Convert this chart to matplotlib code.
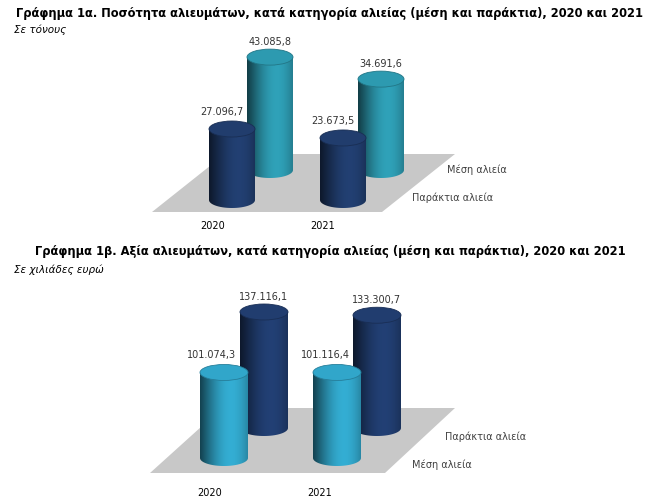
import numpy as np
import matplotlib
matplotlib.use("Agg")
import matplotlib.pyplot as plt
from matplotlib.patches import Ellipse, Polygon, PathPatch
from matplotlib.path import Path

years = ["2020", "2021"]
series1 = ["Παράκτια αλιεία", "Μέση αλιεία"]
coastal_t = [27096.7, 23673.5]
medium_t = [43085.8, 34691.6]
series2 = ["Μέση αλιεία", "Παράκτια αλιεία"]
medium_v = [101074.3, 101116.4]
coastal_v = [137116.1, 133300.7]

def fmt(v):
    s = f"{v:,.1f}"
    return s.replace(",", "X").replace(".", ",").replace("X", ".")

fig = plt.figure(figsize=(6.52, 5.03), dpi=100)
ax = fig.add_axes([0, 0, 1, 1])
ax.set_xlim(0, 652); ax.set_ylim(503, 0); ax.axis("off")

def shade(c, f):
    c = np.array(matplotlib.colors.to_rgb(c))
    return np.clip(c * f, 0, 1)

def cylinder(xc, ybot, h, color, w=46, eh=16):
    ytop = ybot - h
    x0, x1 = xc - w / 2, xc + w / 2
    # body path: rectangle + lower half-ellipse
    t = np.linspace(0, np.pi, 40)
    bx = xc + (w / 2) * np.cos(t)
    by = ybot + (eh / 2) * np.sin(t)
    verts = [(x1, ytop)] + list(zip(bx, by)) + [(x0, ytop), (x1, ytop)]
    path = Path(verts)
    patch = PathPatch(path, fc="none", ec="none")
    ax.add_patch(patch)
    xs = np.linspace(-1, 1, 100)
    prof = 0.55 + 0.55 * np.cos((xs - 0.3) * 1.4)
    img = np.array([[shade(color, p) for p in prof]])
    im = ax.imshow(img, extent=(x0, x1, ybot + eh, ytop), aspect="auto", zorder=3, interpolation="bilinear")
    im.set_clip_path(patch)
    ax.add_patch(Ellipse((xc, ytop), w, eh, fc=shade(color, 1.05), ec=shade(color, 0.8), lw=0.6, zorder=4))
    return ytop

def floor(pts):
    ax.add_patch(Polygon(pts, closed=True, fc="#c8c8c8", ec="none", zorder=1))

# Panel 1
ax.text(330, 13, "Γράφημα 1α. Ποσότητα αλιευμάτων, κατά κατηγορία αλιείας (μέση και παράκτια), 2020 και 2021",
        ha="center", va="center", fontsize=8.3, fontweight="bold")
ax.text(14, 30, "Σε τόνους", fontsize=7.5, style="italic", va="center")
floor([(152, 212), (382, 212), (455, 154), (225, 154)])
s1 = 0.00262
navy, teal = "#1f3a68", "#2b93a8"
for i, xc in enumerate([270, 381]):
    top = cylinder(xc, 170, medium_t[i] * s1, teal)
    ax.text(xc, top - 15, fmt(medium_t[i]), ha="center", fontsize=7, color="#333333", va="center")
for i, xc in enumerate([232, 343]):
    top = cylinder(xc, 200, coastal_t[i] * s1, navy)
    ax.text(xc - 10, top - 17, fmt(coastal_t[i]), ha="center", fontsize=7, color="#333333", va="center")
ax.text(447, 170, series1[1], fontsize=7, color="#404040", va="center")
ax.text(412, 198, series1[0], fontsize=7, color="#404040", va="center")
for x, y in zip([213, 323], years):
    ax.text(x, 226, y, ha="center", fontsize=7, va="center")

# Panel 2
ax.text(330, 251, "Γράφημα 1β. Αξία αλιευμάτων, κατά κατηγορία αλιείας (μέση και παράκτια), 2020 και 2021",
        ha="center", va="center", fontsize=8.3, fontweight="bold")
ax.text(14, 270, "Σε χιλιάδες ευρώ", fontsize=7.5, style="italic", va="center")
floor([(150, 473), (385, 473), (455, 408), (222, 408)])
s2 = 0.000846
navy2, teal2 = "#1f3a6a", "#2f9ec0"
for i, xc in enumerate([264, 377]):
    top = cylinder(xc, 428, coastal_v[i] * s2, navy2, w=48)
    ax.text(xc, top - 15, fmt(coastal_v[i]), ha="center", fontsize=7, color="#333333", va="center")
for i, xc in enumerate([224, 337]):
    top = cylinder(xc, 458, medium_v[i] * s2, teal2, w=48)
    ax.text(xc - 12, top - 17, fmt(medium_v[i]), ha="center", fontsize=7, color="#333333", va="center")
ax.text(445, 437, series2[1], fontsize=7, color="#404040", va="center")
ax.text(412, 465, series2[0], fontsize=7, color="#404040", va="center")
for x, y in zip([210, 320], years):
    ax.text(x, 493, y, ha="center", fontsize=7, va="center")

fig.savefig("out.png", dpi=100)
